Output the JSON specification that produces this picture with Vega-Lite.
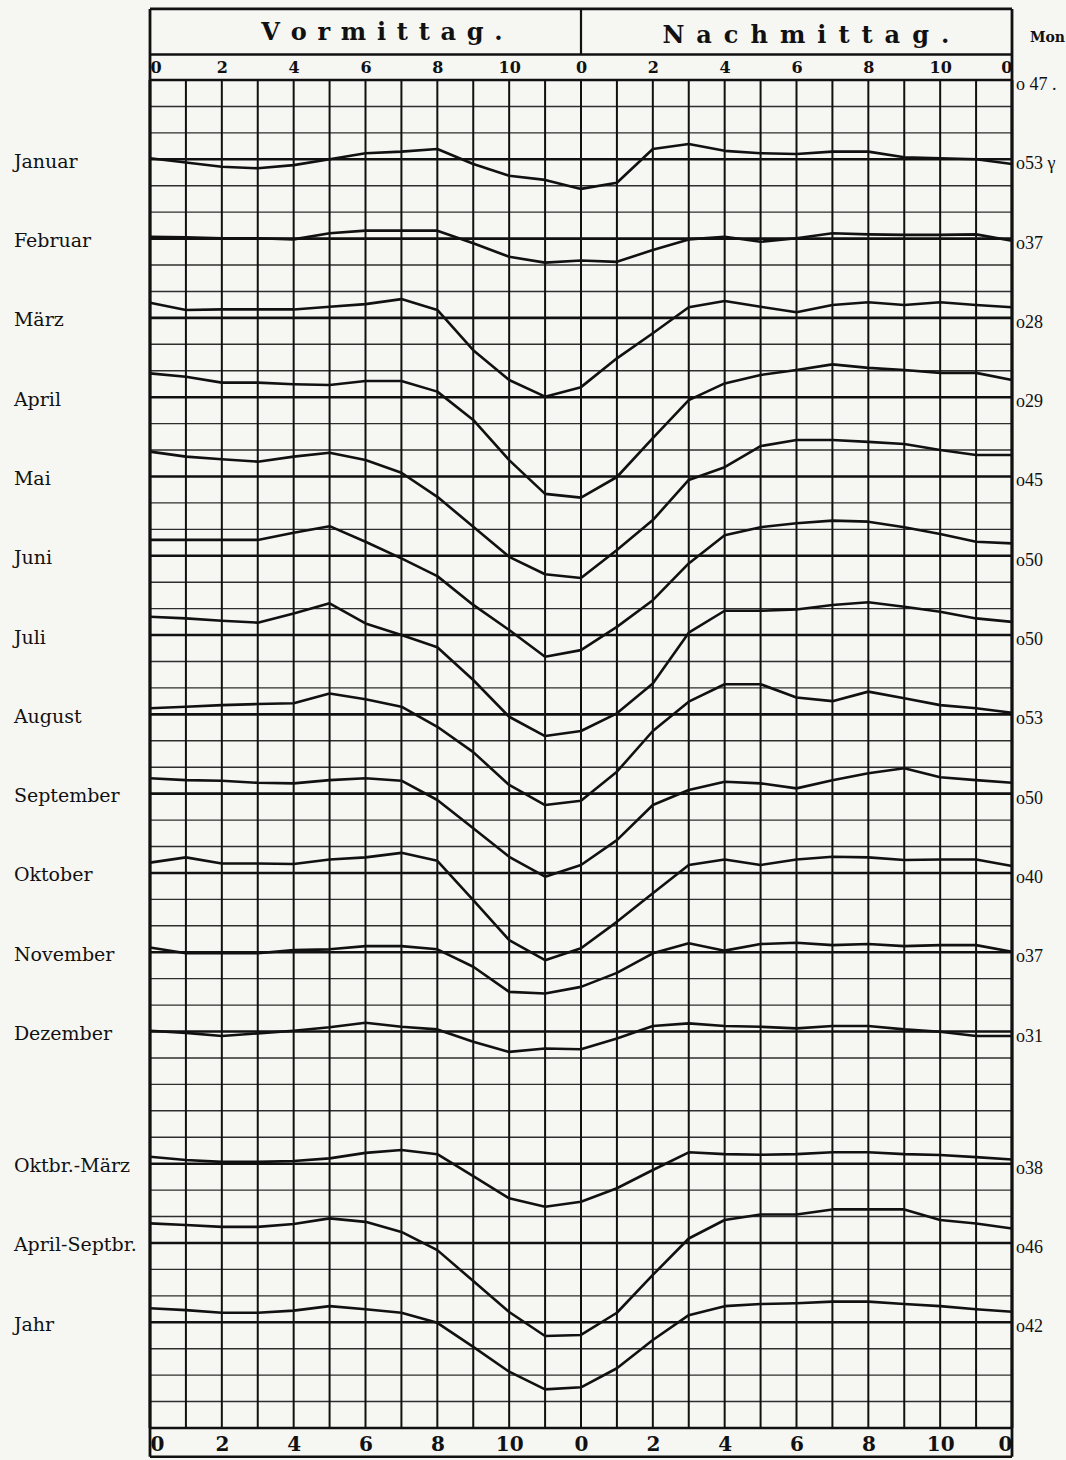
{
  "$schema": "https://vega.github.io/schema/vega-lite/v6.json",
  "width": 862,
  "height": 1348,
  "autosize": {"type": "none"},
  "padding": {"left": 150, "top": 80, "right": 54, "bottom": 32},
  "background": "#f6f6f3",
  "config": {"view": {"stroke": null}},
  "datasets": {
    "hours": [{"hour":0},{"hour":1},{"hour":2},{"hour":3},{"hour":4},{"hour":5},{"hour":6},{"hour":7},{"hour":8},{"hour":9},{"hour":10},{"hour":11},{"hour":12},{"hour":13},{"hour":14},{"hour":15},{"hour":16},{"hour":17},{"hour":18},{"hour":19},{"hour":20},{"hour":21},{"hour":22},{"hour":23},{"hour":24}],
    "gridrows": [{"row":1},{"row":2},{"row":4},{"row":5},{"row":7},{"row":8},{"row":10},{"row":11},{"row":13},{"row":14},{"row":16},{"row":17},{"row":19},{"row":20},{"row":22},{"row":23},{"row":25},{"row":26},{"row":28},{"row":29},{"row":31},{"row":32},{"row":34},{"row":35},{"row":37},{"row":38},{"row":39},{"row":40},{"row":42},{"row":43},{"row":45},{"row":46},{"row":48},{"row":49},{"row":50}],
    "baselines": [
      {"series":"","row":0,"mean":"o 47 ."},
      {"series":"Januar","row":3,"mean":"o53 γ"},
      {"series":"Februar","row":6,"mean":"o37"},
      {"series":"März","row":9,"mean":"o28"},
      {"series":"April","row":12,"mean":"o29"},
      {"series":"Mai","row":15,"mean":"o45"},
      {"series":"Juni","row":18,"mean":"o50"},
      {"series":"Juli","row":21,"mean":"o50"},
      {"series":"August","row":24,"mean":"o53"},
      {"series":"September","row":27,"mean":"o50"},
      {"series":"Oktober","row":30,"mean":"o40"},
      {"series":"November","row":33,"mean":"o37"},
      {"series":"Dezember","row":36,"mean":"o31"},
      {"series":"Oktbr.-März","row":41,"mean":"o38"},
      {"series":"April-Septbr.","row":44,"mean":"o46"},
      {"series":"Jahr","row":47,"mean":"o42"}
    ],
    "curves": [
      {"series":"Januar","hour":0,"row":2.96},{"series":"Januar","hour":1,"row":3.12},{"series":"Januar","hour":2,"row":3.28},{"series":"Januar","hour":3,"row":3.34},{"series":"Januar","hour":4,"row":3.22},{"series":"Januar","hour":5,"row":3.0},{"series":"Januar","hour":6,"row":2.77},{"series":"Januar","hour":7,"row":2.71},{"series":"Januar","hour":8,"row":2.61},{"series":"Januar","hour":9,"row":3.18},{"series":"Januar","hour":10,"row":3.62},{"series":"Januar","hour":11,"row":3.78},{"series":"Januar","hour":12,"row":4.12},{"series":"Januar","hour":13,"row":3.89},{"series":"Januar","hour":14,"row":2.61},{"series":"Januar","hour":15,"row":2.42},{"series":"Januar","hour":16,"row":2.68},{"series":"Januar","hour":17,"row":2.77},{"series":"Januar","hour":18,"row":2.8},{"series":"Januar","hour":19,"row":2.71},{"series":"Januar","hour":20,"row":2.71},{"series":"Januar","hour":21,"row":2.92},{"series":"Januar","hour":22,"row":2.96},{"series":"Januar","hour":23,"row":3.0},{"series":"Januar","hour":24,"row":3.18},
      {"series":"Februar","hour":0,"row":5.93},{"series":"Februar","hour":1,"row":5.95},{"series":"Februar","hour":2,"row":5.99},{"series":"Februar","hour":3,"row":5.99},{"series":"Februar","hour":4,"row":6.03},{"series":"Februar","hour":5,"row":5.8},{"series":"Februar","hour":6,"row":5.7},{"series":"Februar","hour":7,"row":5.7},{"series":"Februar","hour":8,"row":5.7},{"series":"Februar","hour":9,"row":6.18},{"series":"Februar","hour":10,"row":6.69},{"series":"Februar","hour":11,"row":6.91},{"series":"Februar","hour":12,"row":6.83},{"series":"Februar","hour":13,"row":6.88},{"series":"Februar","hour":14,"row":6.43},{"series":"Februar","hour":15,"row":6.03},{"series":"Februar","hour":16,"row":5.93},{"series":"Februar","hour":17,"row":6.12},{"series":"Februar","hour":18,"row":5.99},{"series":"Februar","hour":19,"row":5.8},{"series":"Februar","hour":20,"row":5.84},{"series":"Februar","hour":21,"row":5.86},{"series":"Februar","hour":22,"row":5.86},{"series":"Februar","hour":23,"row":5.84},{"series":"Februar","hour":24,"row":6.08},
      {"series":"März","hour":0,"row":8.43},{"series":"März","hour":1,"row":8.7},{"series":"März","hour":2,"row":8.68},{"series":"März","hour":3,"row":8.68},{"series":"März","hour":4,"row":8.68},{"series":"März","hour":5,"row":8.58},{"series":"März","hour":6,"row":8.48},{"series":"März","hour":7,"row":8.29},{"series":"März","hour":8,"row":8.7},{"series":"März","hour":9,"row":10.22},{"series":"März","hour":10,"row":11.35},{"series":"März","hour":11,"row":11.98},{"series":"März","hour":12,"row":11.62},{"series":"März","hour":13,"row":10.53},{"series":"März","hour":14,"row":9.58},{"series":"März","hour":15,"row":8.6},{"series":"März","hour":16,"row":8.36},{"series":"März","hour":17,"row":8.58},{"series":"März","hour":18,"row":8.79},{"series":"März","hour":19,"row":8.51},{"series":"März","hour":20,"row":8.41},{"series":"März","hour":21,"row":8.51},{"series":"März","hour":22,"row":8.41},{"series":"März","hour":23,"row":8.51},{"series":"März","hour":24,"row":8.6},
      {"series":"April","hour":0,"row":11.1},{"series":"April","hour":1,"row":11.23},{"series":"April","hour":2,"row":11.45},{"series":"April","hour":3,"row":11.45},{"series":"April","hour":4,"row":11.51},{"series":"April","hour":5,"row":11.54},{"series":"April","hour":6,"row":11.39},{"series":"April","hour":7,"row":11.39},{"series":"April","hour":8,"row":11.79},{"series":"April","hour":9,"row":12.86},{"series":"April","hour":10,"row":14.38},{"series":"April","hour":11,"row":15.66},{"series":"April","hour":12,"row":15.8},{"series":"April","hour":13,"row":15.02},{"series":"April","hour":14,"row":13.55},{"series":"April","hour":15,"row":12.11},{"series":"April","hour":16,"row":11.48},{"series":"April","hour":17,"row":11.16},{"series":"April","hour":18,"row":10.97},{"series":"April","hour":19,"row":10.76},{"series":"April","hour":20,"row":10.89},{"series":"April","hour":21,"row":10.97},{"series":"April","hour":22,"row":11.08},{"series":"April","hour":23,"row":11.08},{"series":"April","hour":24,"row":11.35},
      {"series":"Mai","hour":0,"row":14.06},{"series":"Mai","hour":1,"row":14.25},{"series":"Mai","hour":2,"row":14.35},{"series":"Mai","hour":3,"row":14.44},{"series":"Mai","hour":4,"row":14.25},{"series":"Mai","hour":5,"row":14.1},{"series":"Mai","hour":6,"row":14.38},{"series":"Mai","hour":7,"row":14.86},{"series":"Mai","hour":8,"row":15.77},{"series":"Mai","hour":9,"row":16.9},{"series":"Mai","hour":10,"row":18.04},{"series":"Mai","hour":11,"row":18.7},{"series":"Mai","hour":12,"row":18.84},{"series":"Mai","hour":13,"row":17.78},{"series":"Mai","hour":14,"row":16.65},{"series":"Mai","hour":15,"row":15.13},{"series":"Mai","hour":16,"row":14.65},{"series":"Mai","hour":17,"row":13.85},{"series":"Mai","hour":18,"row":13.62},{"series":"Mai","hour":19,"row":13.62},{"series":"Mai","hour":20,"row":13.69},{"series":"Mai","hour":21,"row":13.77},{"series":"Mai","hour":22,"row":14.0},{"series":"Mai","hour":23,"row":14.19},{"series":"Mai","hour":24,"row":14.19},
      {"series":"Juni","hour":0,"row":17.4},{"series":"Juni","hour":1,"row":17.4},{"series":"Juni","hour":2,"row":17.4},{"series":"Juni","hour":3,"row":17.4},{"series":"Juni","hour":4,"row":17.13},{"series":"Juni","hour":5,"row":16.88},{"series":"Juni","hour":6,"row":17.47},{"series":"Juni","hour":7,"row":18.1},{"series":"Juni","hour":8,"row":18.77},{"series":"Juni","hour":9,"row":19.86},{"series":"Juni","hour":10,"row":20.81},{"series":"Juni","hour":11,"row":21.82},{"series":"Juni","hour":12,"row":21.57},{"series":"Juni","hour":13,"row":20.69},{"series":"Juni","hour":14,"row":19.68},{"series":"Juni","hour":15,"row":18.29},{"series":"Juni","hour":16,"row":17.22},{"series":"Juni","hour":17,"row":16.92},{"series":"Juni","hour":18,"row":16.77},{"series":"Juni","hour":19,"row":16.67},{"series":"Juni","hour":20,"row":16.71},{"series":"Juni","hour":21,"row":16.92},{"series":"Juni","hour":22,"row":17.18},{"series":"Juni","hour":23,"row":17.47},{"series":"Juni","hour":24,"row":17.53},
      {"series":"Juli","hour":0,"row":20.31},{"series":"Juli","hour":1,"row":20.37},{"series":"Juli","hour":2,"row":20.46},{"series":"Juli","hour":3,"row":20.53},{"series":"Juli","hour":4,"row":20.18},{"series":"Juli","hour":5,"row":19.8},{"series":"Juli","hour":6,"row":20.56},{"series":"Juli","hour":7,"row":21.0},{"series":"Juli","hour":8,"row":21.46},{"series":"Juli","hour":9,"row":22.7},{"series":"Juli","hour":10,"row":24.09},{"series":"Juli","hour":11,"row":24.82},{"series":"Juli","hour":12,"row":24.63},{"series":"Juli","hour":13,"row":23.96},{"series":"Juli","hour":14,"row":22.83},{"series":"Juli","hour":15,"row":20.91},{"series":"Juli","hour":16,"row":20.08},{"series":"Juli","hour":17,"row":20.08},{"series":"Juli","hour":18,"row":20.03},{"series":"Juli","hour":19,"row":19.86},{"series":"Juli","hour":20,"row":19.76},{"series":"Juli","hour":21,"row":19.93},{"series":"Juli","hour":22,"row":20.12},{"series":"Juli","hour":23,"row":20.37},{"series":"Juli","hour":24,"row":20.5},
      {"series":"August","hour":0,"row":23.77},{"series":"August","hour":1,"row":23.71},{"series":"August","hour":2,"row":23.65},{"series":"August","hour":3,"row":23.61},{"series":"August","hour":4,"row":23.58},{"series":"August","hour":5,"row":23.21},{"series":"August","hour":6,"row":23.43},{"series":"August","hour":7,"row":23.71},{"series":"August","hour":8,"row":24.47},{"series":"August","hour":9,"row":25.43},{"series":"August","hour":10,"row":26.67},{"series":"August","hour":11,"row":27.43},{"series":"August","hour":12,"row":27.27},{"series":"August","hour":13,"row":26.17},{"series":"August","hour":14,"row":24.63},{"series":"August","hour":15,"row":23.52},{"series":"August","hour":16,"row":22.86},{"series":"August","hour":17,"row":22.86},{"series":"August","hour":18,"row":23.36},{"series":"August","hour":19,"row":23.5},{"series":"August","hour":20,"row":23.14},{"series":"August","hour":21,"row":23.39},{"series":"August","hour":22,"row":23.65},{"series":"August","hour":23,"row":23.77},{"series":"August","hour":24,"row":23.94},
      {"series":"September","hour":0,"row":26.42},{"series":"September","hour":1,"row":26.49},{"series":"September","hour":2,"row":26.51},{"series":"September","hour":3,"row":26.59},{"series":"September","hour":4,"row":26.61},{"series":"September","hour":5,"row":26.49},{"series":"September","hour":6,"row":26.42},{"series":"September","hour":7,"row":26.51},{"series":"September","hour":8,"row":27.24},{"series":"September","hour":9,"row":28.31},{"series":"September","hour":10,"row":29.39},{"series":"September","hour":11,"row":30.14},{"series":"September","hour":12,"row":29.7},{"series":"September","hour":13,"row":28.76},{"series":"September","hour":14,"row":27.43},{"series":"September","hour":15,"row":26.86},{"series":"September","hour":16,"row":26.55},{"series":"September","hour":17,"row":26.61},{"series":"September","hour":18,"row":26.8},{"series":"September","hour":19,"row":26.49},{"series":"September","hour":20,"row":26.23},{"series":"September","hour":21,"row":26.04},{"series":"September","hour":22,"row":26.38},{"series":"September","hour":23,"row":26.49},{"series":"September","hour":24,"row":26.59},
      {"series":"Oktober","hour":0,"row":29.61},{"series":"Oktober","hour":1,"row":29.41},{"series":"Oktober","hour":2,"row":29.64},{"series":"Oktober","hour":3,"row":29.64},{"series":"Oktober","hour":4,"row":29.66},{"series":"Oktober","hour":5,"row":29.49},{"series":"Oktober","hour":6,"row":29.41},{"series":"Oktober","hour":7,"row":29.24},{"series":"Oktober","hour":8,"row":29.54},{"series":"Oktober","hour":9,"row":31.03},{"series":"Oktober","hour":10,"row":32.54},{"series":"Oktober","hour":11,"row":33.3},{"series":"Oktober","hour":12,"row":32.85},{"series":"Oktober","hour":13,"row":31.85},{"series":"Oktober","hour":14,"row":30.77},{"series":"Oktober","hour":15,"row":29.7},{"series":"Oktober","hour":16,"row":29.49},{"series":"Oktober","hour":17,"row":29.7},{"series":"Oktober","hour":18,"row":29.49},{"series":"Oktober","hour":19,"row":29.39},{"series":"Oktober","hour":20,"row":29.41},{"series":"Oktober","hour":21,"row":29.51},{"series":"Oktober","hour":22,"row":29.49},{"series":"Oktober","hour":23,"row":29.49},{"series":"Oktober","hour":24,"row":29.74},
      {"series":"November","hour":0,"row":32.82},{"series":"November","hour":1,"row":33.04},{"series":"November","hour":2,"row":33.04},{"series":"November","hour":3,"row":33.04},{"series":"November","hour":4,"row":32.92},{"series":"November","hour":5,"row":32.89},{"series":"November","hour":6,"row":32.77},{"series":"November","hour":7,"row":32.77},{"series":"November","hour":8,"row":32.89},{"series":"November","hour":9,"row":33.55},{"series":"November","hour":10,"row":34.5},{"series":"November","hour":11,"row":34.56},{"series":"November","hour":12,"row":34.31},{"series":"November","hour":13,"row":33.78},{"series":"November","hour":14,"row":33.04},{"series":"November","hour":15,"row":32.66},{"series":"November","hour":16,"row":32.94},{"series":"November","hour":17,"row":32.69},{"series":"November","hour":18,"row":32.64},{"series":"November","hour":19,"row":32.73},{"series":"November","hour":20,"row":32.69},{"series":"November","hour":21,"row":32.77},{"series":"November","hour":22,"row":32.73},{"series":"November","hour":23,"row":32.73},{"series":"November","hour":24,"row":32.98},
      {"series":"Dezember","hour":0,"row":35.97},{"series":"Dezember","hour":1,"row":36.05},{"series":"Dezember","hour":2,"row":36.17},{"series":"Dezember","hour":3,"row":36.07},{"series":"Dezember","hour":4,"row":35.97},{"series":"Dezember","hour":5,"row":35.84},{"series":"Dezember","hour":6,"row":35.67},{"series":"Dezember","hour":7,"row":35.82},{"series":"Dezember","hour":8,"row":35.92},{"series":"Dezember","hour":9,"row":36.39},{"series":"Dezember","hour":10,"row":36.77},{"series":"Dezember","hour":11,"row":36.64},{"series":"Dezember","hour":12,"row":36.67},{"series":"Dezember","hour":13,"row":36.26},{"series":"Dezember","hour":14,"row":35.79},{"series":"Dezember","hour":15,"row":35.69},{"series":"Dezember","hour":16,"row":35.79},{"series":"Dezember","hour":17,"row":35.82},{"series":"Dezember","hour":18,"row":35.88},{"series":"Dezember","hour":19,"row":35.79},{"series":"Dezember","hour":20,"row":35.79},{"series":"Dezember","hour":21,"row":35.92},{"series":"Dezember","hour":22,"row":36.01},{"series":"Dezember","hour":23,"row":36.17},{"series":"Dezember","hour":24,"row":36.17},
      {"series":"Oktbr.-März","hour":0,"row":40.74},{"series":"Oktbr.-März","hour":1,"row":40.86},{"series":"Oktbr.-März","hour":2,"row":40.93},{"series":"Oktbr.-März","hour":3,"row":40.93},{"series":"Oktbr.-März","hour":4,"row":40.9},{"series":"Oktbr.-März","hour":5,"row":40.8},{"series":"Oktbr.-März","hour":6,"row":40.59},{"series":"Oktbr.-März","hour":7,"row":40.48},{"series":"Oktbr.-März","hour":8,"row":40.64},{"series":"Oktbr.-März","hour":9,"row":41.47},{"series":"Oktbr.-März","hour":10,"row":42.31},{"series":"Oktbr.-März","hour":11,"row":42.63},{"series":"Oktbr.-März","hour":12,"row":42.44},{"series":"Oktbr.-März","hour":13,"row":41.93},{"series":"Oktbr.-März","hour":14,"row":41.24},{"series":"Oktbr.-März","hour":15,"row":40.57},{"series":"Oktbr.-März","hour":16,"row":40.64},{"series":"Oktbr.-März","hour":17,"row":40.66},{"series":"Oktbr.-März","hour":18,"row":40.64},{"series":"Oktbr.-März","hour":19,"row":40.57},{"series":"Oktbr.-März","hour":20,"row":40.57},{"series":"Oktbr.-März","hour":21,"row":40.64},{"series":"Oktbr.-März","hour":22,"row":40.67},{"series":"Oktbr.-März","hour":23,"row":40.75},{"series":"Oktbr.-März","hour":24,"row":40.84},
      {"series":"April-Septbr.","hour":0,"row":43.26},{"series":"April-Septbr.","hour":1,"row":43.32},{"series":"April-Septbr.","hour":2,"row":43.39},{"series":"April-Septbr.","hour":3,"row":43.39},{"series":"April-Septbr.","hour":4,"row":43.28},{"series":"April-Septbr.","hour":5,"row":43.07},{"series":"April-Septbr.","hour":6,"row":43.2},{"series":"April-Septbr.","hour":7,"row":43.58},{"series":"April-Septbr.","hour":8,"row":44.27},{"series":"April-Septbr.","hour":9,"row":45.44},{"series":"April-Septbr.","hour":10,"row":46.61},{"series":"April-Septbr.","hour":11,"row":47.52},{"series":"April-Septbr.","hour":12,"row":47.48},{"series":"April-Septbr.","hour":13,"row":46.64},{"series":"April-Septbr.","hour":14,"row":45.21},{"series":"April-Septbr.","hour":15,"row":43.83},{"series":"April-Septbr.","hour":16,"row":43.13},{"series":"April-Septbr.","hour":17,"row":42.92},{"series":"April-Septbr.","hour":18,"row":42.92},{"series":"April-Septbr.","hour":19,"row":42.73},{"series":"April-Septbr.","hour":20,"row":42.73},{"series":"April-Septbr.","hour":21,"row":42.73},{"series":"April-Septbr.","hour":22,"row":43.13},{"series":"April-Septbr.","hour":23,"row":43.26},{"series":"April-Septbr.","hour":24,"row":43.45},
      {"series":"Jahr","hour":0,"row":46.47},{"series":"Jahr","hour":1,"row":46.54},{"series":"Jahr","hour":2,"row":46.64},{"series":"Jahr","hour":3,"row":46.64},{"series":"Jahr","hour":4,"row":46.56},{"series":"Jahr","hour":5,"row":46.39},{"series":"Jahr","hour":6,"row":46.51},{"series":"Jahr","hour":7,"row":46.64},{"series":"Jahr","hour":8,"row":47.02},{"series":"Jahr","hour":9,"row":47.93},{"series":"Jahr","hour":10,"row":48.87},{"series":"Jahr","hour":11,"row":49.54},{"series":"Jahr","hour":12,"row":49.46},{"series":"Jahr","hour":13,"row":48.74},{"series":"Jahr","hour":14,"row":47.67},{"series":"Jahr","hour":15,"row":46.73},{"series":"Jahr","hour":16,"row":46.39},{"series":"Jahr","hour":17,"row":46.31},{"series":"Jahr","hour":18,"row":46.28},{"series":"Jahr","hour":19,"row":46.22},{"series":"Jahr","hour":20,"row":46.22},{"series":"Jahr","hour":21,"row":46.31},{"series":"Jahr","hour":22,"row":46.39},{"series":"Jahr","hour":23,"row":46.51},{"series":"Jahr","hour":24,"row":46.6}
    ]
  },
  "layer": [
    {
      "data": {"name": "gridrows"},
      "mark": {"type": "rule", "stroke": "#2e2e2e", "strokeWidth": 1.4},
      "encoding": {
        "y": {"field": "row", "type": "quantitative", "scale": {"domain": [0, 51], "reverse": true, "nice": false, "zero": false}, "axis": null}
      }
    },
    {
      "data": {"name": "hours"},
      "mark": {"type": "rule", "stroke": "#111"},
      "encoding": {
        "x": {"field": "hour", "type": "quantitative",
          "scale": {"domain": [0, 24], "nice": false, "zero": false},
          "axis": {"orient": "bottom", "values": [0,2,4,6,8,10,12,14,16,18,20,22,24],
            "labelExpr": "format(datum.value % 12, 'd')", "labelFlush": true,
            "labelFont": "DejaVu Serif", "labelFontWeight": "bold", "labelFontSize": 20, "labelColor": "#111",
            "labelPadding": 6, "ticks": false, "domain": false, "grid": false, "title": null}},
        "y": {"datum": 0, "axis": null},
        "y2": {"datum": 51},
        "strokeWidth": {"condition": {"test": "datum.hour == 0 || datum.hour == 24", "value": 2.8}, "value": 2}
      }
    },
    {
      "data": {"name": "baselines"},
      "mark": {"type": "rule", "stroke": "#111", "strokeWidth": 2.6},
      "encoding": {"y": {"field": "row", "type": "quantitative", "axis": null}}
    },
    {
      "data": {"name": "curves"},
      "mark": {"type": "line", "stroke": "#111", "strokeWidth": 2.6, "strokeJoin": "round"},
      "encoding": {
        "x": {"field": "hour", "type": "quantitative",
          "axis": {"orient": "top", "values": [0,2,4,6,8,10,12,14,16,18,20,22,24],
            "labelExpr": "format(datum.value % 12, 'd')", "labelFlush": true,
            "labelFont": "DejaVu Serif", "labelFontWeight": "bold", "labelFontSize": 16, "labelColor": "#111",
            "labelPadding": 5, "ticks": false, "domain": false, "grid": false, "title": null}},
        "y": {"field": "row", "type": "quantitative", "axis": null},
        "detail": {"field": "series", "type": "nominal"}
      }
    },
    {
      "data": {"values": [{}]},
      "mark": {"type": "rule", "stroke": "#111", "strokeWidth": 2.6},
      "encoding": {"y": {"datum": -2.69, "axis": null}}
    },
    {
      "data": {"values": [{}]},
      "mark": {"type": "rule", "stroke": "#111", "strokeWidth": 2.4},
      "encoding": {"y": {"datum": -0.965, "axis": null}}
    },
    {
      "data": {"values": [{}]},
      "mark": {"type": "rule", "stroke": "#111", "strokeWidth": 2.6},
      "encoding": {"y": {"datum": 51, "axis": null}}
    },
    {
      "data": {"values": [{}]},
      "mark": {"type": "rule", "stroke": "#111", "strokeWidth": 2.6},
      "encoding": {"y": {"datum": 52.09, "axis": null}}
    },
    {
      "data": {"values": [{}]},
      "mark": {"type": "rule", "stroke": "#111", "strokeWidth": 2.8},
      "encoding": {"x": {"datum": 0, "axis": null}, "y": {"datum": -2.69, "axis": null}, "y2": {"datum": 52.09}}
    },
    {
      "data": {"values": [{}]},
      "mark": {"type": "rule", "stroke": "#111", "strokeWidth": 2.8},
      "encoding": {"x": {"datum": 24, "axis": null}, "y": {"datum": -2.69, "axis": null}, "y2": {"datum": 52.09}}
    },
    {
      "data": {"values": [{}]},
      "mark": {"type": "rule", "stroke": "#111", "strokeWidth": 2.2},
      "encoding": {"x": {"datum": 12, "axis": null}, "y": {"datum": -2.69, "axis": null}, "y2": {"datum": -0.965}}
    },
    {
      "data": {"values": [{}]},
      "mark": {"type": "text", "text": "V \u200ao \u200ar \u200am \u200ai \u200at \u200at \u200aa \u200ag \u200a.", "font": "DejaVu Serif", "fontWeight": "bold", "fontSize": 24, "color": "#111", "align": "center", "baseline": "alphabetic"},
      "encoding": {"x": {"datum": 6.46, "axis": null}, "y": {"datum": -1.51, "axis": null}}
    },
    {
      "data": {"values": [{}]},
      "mark": {"type": "text", "text": "N\u2002a\u2002c\u2002h\u2002m\u2002i\u2002t\u2002t\u2002a\u2002g\u2002.", "font": "DejaVu Serif", "fontWeight": "bold", "fontSize": 24, "color": "#111", "align": "center", "baseline": "alphabetic"},
      "encoding": {"x": {"datum": 18.26, "axis": null}, "y": {"datum": -1.41, "axis": null}}
    },
    {
      "data": {"values": [{}]},
      "mark": {"type": "text", "text": "Mon", "font": "DejaVu Serif", "fontWeight": "bold", "fontSize": 14, "color": "#111", "align": "left", "baseline": "middle", "dx": 18},
      "encoding": {"x": {"datum": 24, "axis": null}, "y": {"datum": -1.59, "axis": null}}
    },
    {
      "data": {"name": "baselines"},
      "mark": {"type": "text", "font": "DejaVu Serif", "fontSize": 19, "color": "#111", "align": "left", "baseline": "middle", "dy": 2.5},
      "encoding": {
        "x": {"datum": -3.79, "axis": null},
        "y": {"field": "row", "type": "quantitative", "axis": null},
        "text": {"field": "series", "type": "nominal"}
      }
    },
    {
      "data": {"name": "baselines"},
      "mark": {"type": "text", "font": "Liberation Serif", "fontSize": 18, "color": "#111", "align": "left", "baseline": "middle", "dx": 4, "dy": 5},
      "encoding": {
        "x": {"datum": 24, "axis": null},
        "y": {"field": "row", "type": "quantitative", "axis": null},
        "text": {"field": "mean", "type": "nominal"}
      }
    }
  ]
}
